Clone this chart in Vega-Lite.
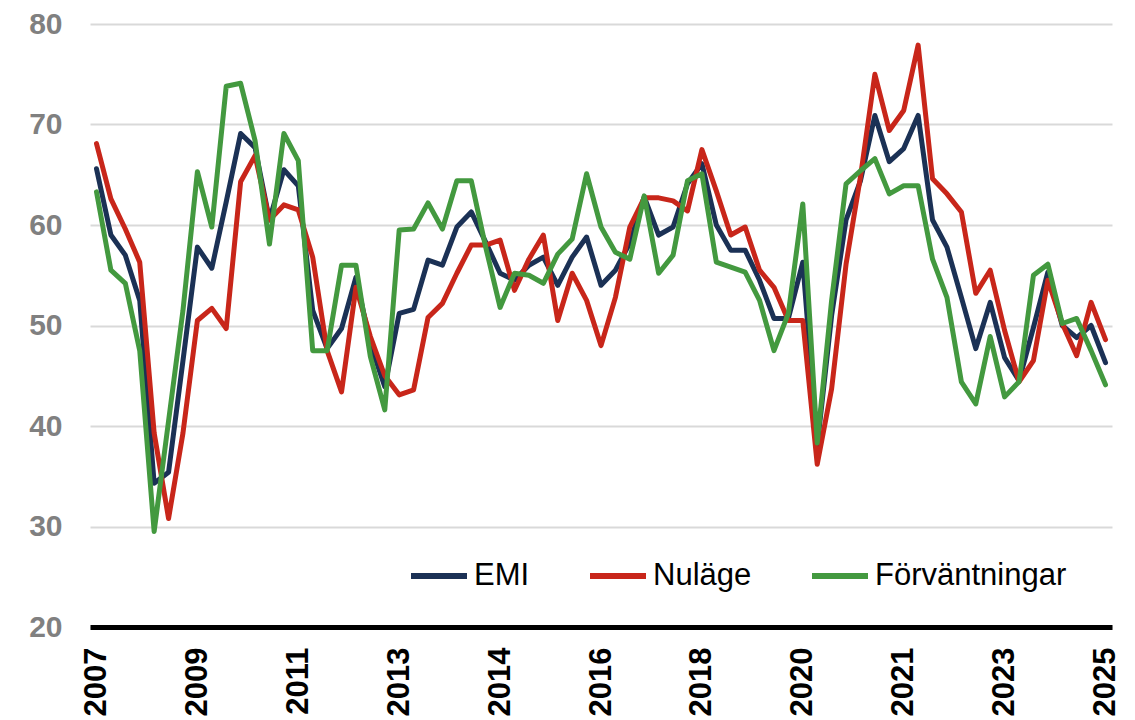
{
  "$schema": "https://vega.github.io/schema/vega-lite/v6.json",
  "width": 1022,
  "height": 603,
  "autosize": {"type": "none"},
  "padding": {"left": 90, "top": 24, "right": 23, "bottom": 93},
  "background": "white",
  "config": {"view": {"stroke": null}, "font": "Liberation Sans"},
  "data": {"values": [
    {"q":"2007Q4","EMI":65.6,"Nuläge":68.1,"Förväntningar":63.3},
    {"q":"2008Q1","EMI":59.0,"Nuläge":62.6,"Förväntningar":55.5},
    {"q":"2008Q2","EMI":57.0,"Nuläge":59.6,"Förväntningar":54.2},
    {"q":"2008Q3","EMI":52.5,"Nuläge":56.3,"Förväntningar":47.5},
    {"q":"2008Q4","EMI":34.3,"Nuläge":39.3,"Förväntningar":29.5},
    {"q":"2009Q1","EMI":35.4,"Nuläge":30.8,"Förväntningar":40.5},
    {"q":"2009Q2","EMI":46.5,"Nuläge":39.3,"Förväntningar":51.5},
    {"q":"2009Q3","EMI":57.8,"Nuläge":50.5,"Förväntningar":65.3},
    {"q":"2009Q4","EMI":55.7,"Nuläge":51.7,"Förväntningar":59.8},
    {"q":"2010Q1","EMI":62.3,"Nuläge":49.7,"Förväntningar":73.8},
    {"q":"2010Q2","EMI":69.1,"Nuläge":64.3,"Förväntningar":74.1},
    {"q":"2010Q3","EMI":67.7,"Nuläge":66.9,"Förväntningar":68.4},
    {"q":"2010Q4","EMI":60.5,"Nuläge":60.5,"Förväntningar":58.1},
    {"q":"2011Q1","EMI":65.5,"Nuläge":62.0,"Förväntningar":69.1},
    {"q":"2011Q2","EMI":63.9,"Nuläge":61.5,"Förväntningar":66.4},
    {"q":"2011Q3","EMI":51.5,"Nuläge":56.8,"Förväntningar":47.5},
    {"q":"2011Q4","EMI":47.7,"Nuläge":47.5,"Förväntningar":47.5},
    {"q":"2012Q1","EMI":49.7,"Nuläge":43.4,"Förväntningar":56.0},
    {"q":"2012Q2","EMI":54.8,"Nuläge":53.8,"Förväntningar":56.0},
    {"q":"2012Q3","EMI":48.2,"Nuläge":48.9,"Förväntningar":46.9},
    {"q":"2012Q4","EMI":43.9,"Nuläge":45.0,"Förväntningar":41.6},
    {"q":"2013Q1","EMI":51.2,"Nuläge":43.1,"Förväntningar":59.5},
    {"q":"2013Q2","EMI":51.6,"Nuläge":43.6,"Förväntningar":59.6},
    {"q":"2013Q3","EMI":56.5,"Nuläge":50.8,"Förväntningar":62.2},
    {"q":"2013Q4","EMI":56.0,"Nuläge":52.2,"Förväntningar":59.6},
    {"q":"2014Q1","EMI":59.8,"Nuläge":55.2,"Förväntningar":64.4},
    {"q":"2014Q2","EMI":61.3,"Nuläge":58.0,"Förväntningar":64.4},
    {"q":"2014Q3","EMI":58.3,"Nuläge":58.0,"Förväntningar":57.8},
    {"q":"2014Q4","EMI":55.2,"Nuläge":58.5,"Förväntningar":51.8},
    {"q":"2015Q1","EMI":54.5,"Nuläge":53.5,"Förväntningar":55.2},
    {"q":"2015Q2","EMI":56.0,"Nuläge":56.6,"Förväntningar":55.0},
    {"q":"2015Q3","EMI":56.8,"Nuläge":59.0,"Förväntningar":54.2},
    {"q":"2015Q4","EMI":54.0,"Nuläge":50.5,"Förväntningar":57.1},
    {"q":"2016Q1","EMI":56.8,"Nuläge":55.2,"Förväntningar":58.6},
    {"q":"2016Q2","EMI":58.8,"Nuläge":52.5,"Förväntningar":65.1},
    {"q":"2016Q3","EMI":54.0,"Nuläge":48.0,"Förväntningar":59.8},
    {"q":"2016Q4","EMI":55.5,"Nuläge":52.8,"Förväntningar":57.3},
    {"q":"2017Q1","EMI":58.2,"Nuläge":59.8,"Förväntningar":56.6},
    {"q":"2017Q2","EMI":62.8,"Nuläge":62.7,"Förväntningar":62.9},
    {"q":"2017Q3","EMI":59.0,"Nuläge":62.7,"Förväntningar":55.2},
    {"q":"2017Q4","EMI":59.8,"Nuläge":62.4,"Förväntningar":57.0},
    {"q":"2018Q1","EMI":64.1,"Nuläge":61.4,"Förväntningar":64.4},
    {"q":"2018Q2","EMI":66.1,"Nuläge":67.5,"Förväntningar":65.1},
    {"q":"2018Q3","EMI":60.0,"Nuläge":63.4,"Förväntningar":56.3},
    {"q":"2018Q4","EMI":57.5,"Nuläge":59.0,"Förväntningar":55.8},
    {"q":"2019Q1","EMI":57.5,"Nuläge":59.8,"Förväntningar":55.3},
    {"q":"2019Q2","EMI":54.5,"Nuläge":55.5,"Förväntningar":52.5},
    {"q":"2019Q3","EMI":50.7,"Nuläge":53.8,"Förväntningar":47.5},
    {"q":"2019Q4","EMI":50.7,"Nuläge":50.5,"Förväntningar":51.2},
    {"q":"2020Q1","EMI":56.3,"Nuläge":50.5,"Förväntningar":62.1},
    {"q":"2020Q2","EMI":38.0,"Nuläge":36.2,"Förväntningar":38.3},
    {"q":"2020Q3","EMI":51.0,"Nuläge":43.7,"Förväntningar":52.5},
    {"q":"2020Q4","EMI":60.5,"Nuläge":56.1,"Förväntningar":64.1},
    {"q":"2021Q1","EMI":64.4,"Nuläge":64.8,"Förväntningar":65.4},
    {"q":"2021Q2","EMI":70.9,"Nuläge":75.0,"Förväntningar":66.6},
    {"q":"2021Q3","EMI":66.3,"Nuläge":69.4,"Förväntningar":63.1},
    {"q":"2021Q4","EMI":67.6,"Nuläge":71.4,"Förväntningar":63.9},
    {"q":"2022Q1","EMI":70.9,"Nuläge":77.9,"Förväntningar":63.9},
    {"q":"2022Q2","EMI":60.5,"Nuläge":64.6,"Förväntningar":56.6},
    {"q":"2022Q3","EMI":57.8,"Nuläge":63.1,"Förväntningar":52.8},
    {"q":"2022Q4","EMI":52.8,"Nuläge":61.3,"Förväntningar":44.4},
    {"q":"2023Q1","EMI":47.7,"Nuläge":53.2,"Förväntningar":42.2},
    {"q":"2023Q2","EMI":52.3,"Nuläge":55.5,"Förväntningar":48.9},
    {"q":"2023Q3","EMI":46.8,"Nuläge":49.5,"Förväntningar":42.9},
    {"q":"2023Q4","EMI":44.5,"Nuläge":44.4,"Förväntningar":44.4},
    {"q":"2024Q1","EMI":49.8,"Nuläge":46.5,"Förväntningar":55.0},
    {"q":"2024Q2","EMI":55.3,"Nuläge":54.5,"Förväntningar":56.1},
    {"q":"2024Q3","EMI":50.0,"Nuläge":50.2,"Förväntningar":50.2},
    {"q":"2024Q4","EMI":48.8,"Nuläge":47.0,"Förväntningar":50.7},
    {"q":"2025Q1","EMI":50.0,"Nuläge":52.3,"Förväntningar":47.5},
    {"q":"2025Q2","EMI":46.3,"Nuläge":48.6,"Förväntningar":44.1}
  ]},
  "transform": [{"fold": ["EMI", "Nuläge", "Förväntningar"], "as": ["serie", "value"]}],
  "mark": {"type": "line", "strokeWidth": 5, "strokeJoin": "round", "strokeCap": "round"},
  "encoding": {
    "x": {
      "field": "q", "type": "ordinal", "sort": null,
      "scale": {"type": "point", "padding": 0.45},
      "axis": {
        "title": null,
        "values": ["2007Q4","2009Q3","2011Q2","2013Q1","2014Q4","2016Q3","2018Q2","2020Q1","2021Q4","2023Q3","2025Q2"],
        "labelExpr": "substring(datum.value, 0, 4)",
        "labelAngle": -90,
        "labelFont": "Liberation Sans",
        "labelFontSize": 31,
        "labelFontWeight": "bold",
        "labelColor": "#000000",
        "labelPadding": 20,
        "labelOverlap": false,
        "labelBound": false,
        "ticks": false,
        "grid": false,
        "domain": true,
        "domainColor": "#000000",
        "domainWidth": 5
      }
    },
    "y": {
      "field": "value", "type": "quantitative",
      "scale": {"domain": [20, 80], "nice": false, "zero": false},
      "axis": {
        "title": null,
        "values": [20, 30, 40, 50, 60, 70, 80],
        "labelFont": "Liberation Sans",
        "labelFontSize": 30,
        "labelFontWeight": "bold",
        "labelColor": "#808080",
        "labelPadding": 28,
        "ticks": false,
        "domain": false,
        "grid": true,
        "gridColor": "#d9d9d9",
        "gridWidth": 2
      }
    },
    "color": {
      "field": "serie", "type": "nominal",
      "scale": {"domain": ["EMI", "Nuläge", "Förväntningar"], "range": ["#1b3155", "#c8261a", "#43993f"]},
      "legend": {
        "title": null,
        "orient": "none",
        "legendX": 318,
        "legendY": 521,
        "direction": "horizontal",
        "symbolType": "stroke",
        "symbolSize": 3136,
        "symbolStrokeWidth": 6,
        "labelFont": "Liberation Sans",
        "labelFontSize": 31,
        "labelColor": "#000000",
        "labelOffset": 4,
        "labelLimit": 400,
        "columnPadding": 48
      }
    }
  }
}
